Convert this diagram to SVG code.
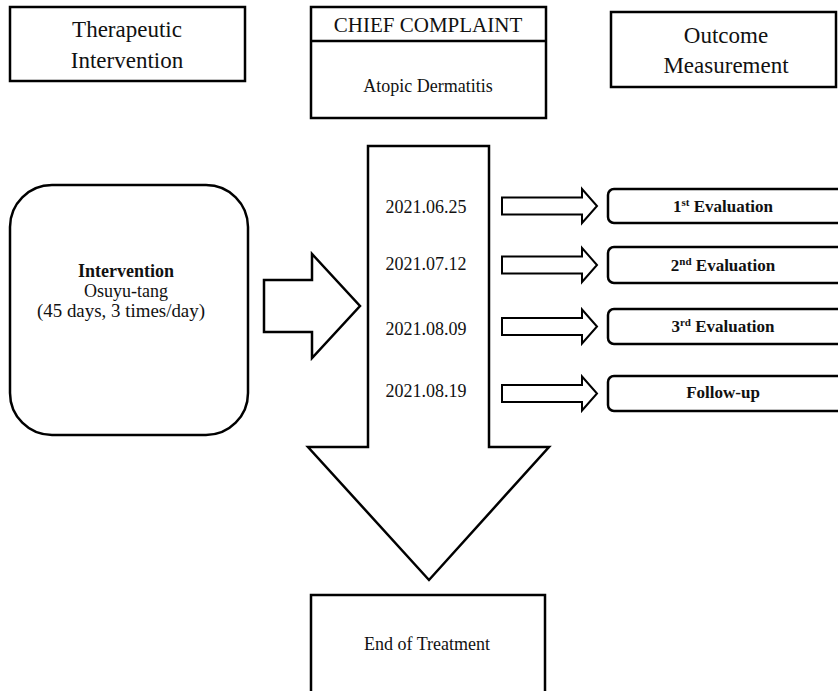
<svg xmlns="http://www.w3.org/2000/svg" width="838" height="691" viewBox="0 0 838 691" font-family="Liberation Serif, DejaVu Serif, serif">
<style>
  .box { fill: #fff; stroke: #000; stroke-width: 2.5; }
  .shape { fill: #fff; stroke: #000; stroke-width: 2.5; stroke-linejoin: miter; }
  .sarrow { fill: #fff; stroke: #000; stroke-width: 2; stroke-linejoin: miter; }
  text { fill: #111; text-anchor: middle; }
  .h { font-size: 23px; }
  .n { font-size: 18px; }
  .b { font-size: 18px; font-weight: bold; }
  .e { font-size: 17px; font-weight: bold; }
  .sup { font-size: 11px; }
</style>
<rect width="838" height="691" fill="#fff"/>

<g id="therapeutic-intervention">
  <rect class="box" x="10" y="7" width="235" height="74"/>
  <text class="h" x="127" y="37">Therapeutic</text>
  <text class="h" x="127" y="68">Intervention</text>
</g>

<g id="chief-complaint">
  <rect class="box" x="311" y="7" width="235" height="111"/>
  <line x1="311" y1="41" x2="546" y2="41" stroke="#000" stroke-width="2.5"/>
  <text x="428" y="32" style="font-size:21px">CHIEF COMPLAINT</text>
  <text class="n" x="428" y="92">Atopic Dermatitis</text>
</g>

<g id="outcome-measurement">
  <rect class="box" x="611" y="12" width="225" height="75"/>
  <text class="h" x="726" y="43">Outcome</text>
  <text class="h" x="726" y="73">Measurement</text>
</g>

<g id="intervention">
  <rect class="box" x="10" y="185" width="238" height="250" rx="42" ry="42"/>
  <text class="b" x="126" y="277">Intervention</text>
  <text class="n" x="126" y="297">Osuyu-tang</text>
  <text class="n" x="121" y="317" textLength="168" lengthAdjust="spacingAndGlyphs">(45 days, 3 times/day)</text>
</g>

<g id="connectors">
  <polygon class="shape" points="264,280 312,280 312,254 360,306 312,358 312,332 264,332"/>
  <polygon class="shape" points="368,146 489,146 489,447 549,447 429,580 308,447 368,447"/>
  <polygon class="sarrow" points="502,197.5 582,197.5 582,189 597,206 582,223 582,214.5 502,214.5"/>
  <polygon class="sarrow" points="502,256.5 582,256.5 582,248 597,265 582,282 582,273.5 502,273.5"/>
  <polygon class="sarrow" points="502,318 582,318 582,309.5 597,326.5 582,343.5 582,335 502,335"/>
  <polygon class="sarrow" points="502,385 582,385 582,376.5 597,393.5 582,410.5 582,402 502,402"/>
</g>

<g id="dates">
  <text class="n" x="426" y="213">2021.06.25</text>
  <text class="n" x="426" y="270">2021.07.12</text>
  <text class="n" x="426" y="335">2021.08.09</text>
  <text class="n" x="426" y="397">2021.08.19</text>
</g>

<g id="eval-1">
  <rect class="box" x="608" y="189" width="250" height="34" rx="6"/>
  <text class="e" x="723" y="212">1<tspan class="sup" dy="-6">st</tspan><tspan dy="6"> Evaluation</tspan></text>
</g>
<g id="eval-2">
  <rect class="box" x="608" y="247" width="250" height="36" rx="6"/>
  <text class="e" x="723" y="271">2<tspan class="sup" dy="-6">nd</tspan><tspan dy="6"> Evaluation</tspan></text>
</g>
<g id="eval-3">
  <rect class="box" x="608" y="309" width="250" height="35" rx="6"/>
  <text class="e" x="723" y="332">3<tspan class="sup" dy="-6">rd</tspan><tspan dy="6"> Evaluation</tspan></text>
</g>
<g id="follow-up">
  <rect class="box" x="608" y="376" width="250" height="35" rx="6"/>
  <text class="e" x="723" y="398">Follow-up</text>
</g>

<g id="end-of-treatment">
  <rect class="box" x="311" y="595" width="234" height="110"/>
  <text class="n" x="427" y="650">End of Treatment</text>
</g>
</svg>
